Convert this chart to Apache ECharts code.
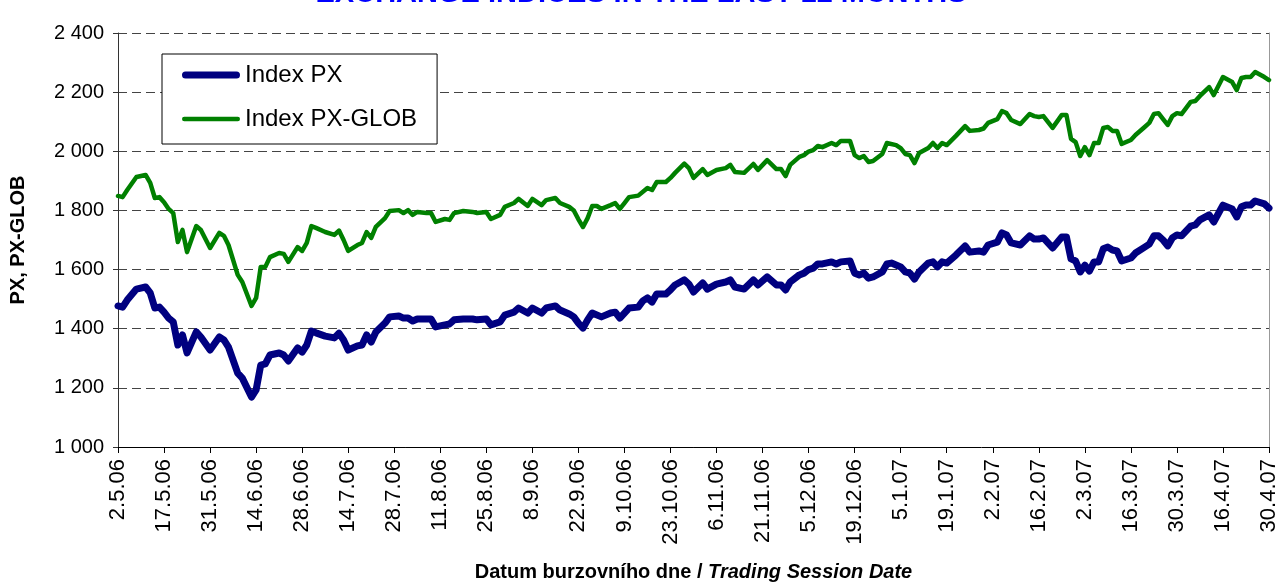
<!DOCTYPE html>
<html>
<head>
<meta charset="utf-8">
<script src="https://cdn.jsdelivr.net/npm/echarts@6/dist/echarts.min.js"></script>
<style>
  html, body { margin: 0; padding: 0; background: #fff; }
  #chart { width: 1282px; height: 583px; }
</style>
</head>
<body>
<div id="chart"></div>
<script>
// popisky osy x - kazdych 10 obchodnich dni
var tickLabels = ['2.5.06', '17.5.06', '31.5.06', '14.6.06', '28.6.06', '14.7.06', '28.7.06',
  '11.8.06', '25.8.06', '8.9.06', '22.9.06', '9.10.06', '23.10.06', '6.11.06', '21.11.06',
  '5.12.06', '19.12.06', '5.1.07', '19.1.07', '2.2.07', '16.2.07', '2.3.07', '16.3.07',
  '30.3.07', '16.4.07', '30.4.07'];

var yTicks = [1000, 1200, 1400, 1600, 1800, 2000, 2200, 2400];

// [poradi obchodniho dne, hodnota]
var indexPX = [
  [0,1477],[1,1473],[2,1497],[4,1534],[6,1541],[7,1521],[8,1470],[9,1473],[10,1456],[11,1436],
  [12,1423],[13,1345],[14,1379],[15,1318],[17,1389],[18,1372],[20,1328],[22,1372],[23,1362],
  [24,1338],[26,1250],[27,1233],[29,1169],[30,1193],[31,1277],[32,1281],[33,1311],[35,1318],
  [36,1311],[37,1291],[39,1335],[40,1321],[41,1345],[42,1392],[43,1386],[45,1375],[47,1369],
  [48,1385],[49,1362],[50,1328],[52,1342],[53,1345],[54,1379],[55,1355],[56,1389],[58,1419],
  [59,1440],[61,1443],[62,1436],[63,1436],[64,1426],[65,1433],[67,1433],[68,1433],[69,1406],
  [71,1413],[72,1416],[73,1430],[75,1433],[77,1433],[78,1430],[80,1433],[81,1413],[83,1423],
  [84,1446],[86,1456],[87,1470],[89,1453],[90,1470],[92,1453],[93,1470],[95,1477],[96,1463],
  [98,1450],[99,1440],[100,1419],[101,1402],[102,1430],[103,1453],[105,1440],[107,1453],
  [108,1456],[109,1436],[111,1470],[113,1473],[114,1494],[115,1504],[116,1490],[117,1517],
  [119,1517],[120,1531],[121,1548],[123,1565],[124,1551],[125,1524],[127,1555],[128,1534],
  [130,1551],[132,1558],[133,1565],[134,1541],[136,1534],[138,1565],[139,1548],[141,1575],
  [143,1548],[144,1548],[145,1531],[146,1558],[148,1582],[149,1588],[150,1600],[151,1605],
  [152,1619],[153,1619],[155,1626],[156,1619],[157,1626],[159,1629],[160,1588],[161,1582],
  [162,1588],[163,1571],[164,1575],[166,1592],[167,1619],[168,1622],[170,1609],[171,1592],
  [172,1588],[173,1568],[174,1592],[176,1622],[177,1626],[178,1609],[179,1626],[180,1622],
  [182,1649],[184,1680],[185,1659],[187,1663],[188,1659],[189,1683],[191,1693],[192,1724],
  [193,1717],[194,1690],[196,1683],[198,1714],[199,1703],[200,1703],[201,1707],[203,1673],
  [205,1710],[206,1710],[207,1636],[208,1629],[209,1592],[210,1615],[211,1595],[212,1626],
  [213,1626],[214,1670],[215,1676],[216,1666],[217,1663],[218,1629],[220,1639],[221,1656],
  [223,1676],[224,1686],[225,1714],[226,1714],[227,1700],[228,1680],[229,1707],[230,1717],
  [231,1714],[233,1747],[234,1751],[235,1768],[237,1785],[238,1761],[240,1818],[242,1805],
  [243,1778],[244,1812],[245,1818],[246,1818],[247,1832],[249,1822],[250,1808]
];

var indexGLOB = [
  [0,1849],[1,1845],[2,1869],[4,1913],[6,1920],[7,1893],[8,1842],[9,1845],[10,1828],[11,1805],
  [12,1791],[13,1693],[14,1734],[15,1659],[17,1747],[18,1734],[20,1673],[22,1724],[23,1714],
  [24,1683],[26,1582],[27,1558],[29,1477],[30,1504],[31,1609],[32,1609],[33,1642],[35,1656],
  [36,1653],[37,1626],[39,1676],[40,1663],[41,1690],[42,1747],[43,1741],[45,1727],[47,1717],
  [48,1732],[49,1700],[50,1663],[52,1683],[53,1690],[54,1727],[55,1707],[56,1744],[58,1774],
  [59,1798],[61,1801],[62,1791],[63,1801],[64,1785],[65,1795],[67,1791],[68,1791],[69,1761],
  [71,1771],[72,1768],[73,1791],[75,1798],[77,1795],[78,1791],[80,1795],[81,1771],[83,1785],
  [84,1812],[86,1825],[87,1839],[89,1815],[90,1839],[92,1818],[93,1835],[95,1842],[96,1825],
  [98,1812],[99,1800],[100,1770],[101,1744],[102,1774],[103,1815],[104,1815],[105,1805],
  [107,1818],[108,1825],[109,1805],[110,1825],[111,1845],[113,1850],[115,1876],[116,1869],
  [117,1896],[119,1896],[120,1910],[121,1927],[123,1958],[124,1943],[125,1910],[127,1940],
  [128,1920],[130,1937],[132,1943],[133,1954],[134,1930],[136,1927],[138,1957],[139,1937],
  [141,1970],[143,1940],[144,1940],[145,1916],[146,1954],[148,1981],[149,1987],[150,1999],
  [151,2004],[152,2018],[153,2014],[155,2028],[156,2021],[157,2035],[159,2035],[160,1987],
  [161,1977],[162,1984],[163,1964],[164,1967],[166,1991],[167,2028],[169,2021],[170,2011],
  [171,1991],[172,1987],[173,1960],[174,1994],[176,2011],[177,2028],[178,2011],[179,2028],
  [180,2021],[182,2052],[184,2085],[185,2069],[187,2072],[188,2077],[189,2096],[191,2109],
  [192,2136],[193,2129],[194,2106],[196,2092],[198,2126],[199,2119],[200,2116],[201,2119],
  [203,2079],[205,2123],[206,2123],[207,2042],[208,2031],[209,1984],[210,2014],[211,1987],
  [212,2028],[213,2028],[214,2079],[215,2082],[216,2069],[217,2069],[218,2025],[220,2038],
  [221,2055],[223,2082],[224,2096],[225,2126],[226,2129],[227,2109],[228,2089],[229,2119],
  [230,2129],[231,2126],[233,2167],[234,2170],[235,2187],[237,2217],[238,2190],[240,2251],
  [242,2234],[243,2207],[244,2248],[245,2251],[246,2251],[247,2268],[249,2251],[250,2241]
];

var chart = echarts.init(document.getElementById('chart'));

function thousands(v) {
  return String(v).replace(/\B(?=(\d{3})+(?!\d))/g, ' ');
}

// ikonky legendy - zaoblene cary ruzne tloustky
var iconThick = 'path://M3.5,0 L54.5,0 A3.5,3.5 0 0 1 54.5,7 L3.5,7 A3.5,3.5 0 0 1 3.5,0 Z';
var iconThin = 'path://M2.25,0 L55.75,0 A2.25,2.25 0 0 1 55.75,4.5 L2.25,4.5 A2.25,2.25 0 0 1 2.25,0 Z';

var option = {
  animation: false,
  backgroundColor: '#fff',
  textStyle: { fontFamily: 'Liberation Sans, Arial, sans-serif' },
  title: {
    text: 'EXCHANGE INDICES IN THE LAST 12 MONTHS',
    left: 'center',
    top: -26,
    textStyle: { color: '#0000ff', fontSize: 29, fontWeight: 'bold' }
  },
  legend: {
    orient: 'vertical',
    left: 162,
    top: 54,
    padding: [9, 20, 13, 20],
    itemWidth: 58,
    itemHeight: 7,
    itemGap: 20,
    borderColor: '#000',
    borderWidth: 1,
    backgroundColor: '#fff',
    textStyle: { fontSize: 24, color: '#000' },
    data: [
      { name: 'Index PX', icon: iconThick },
      { name: 'Index PX-GLOB', icon: iconThin }
    ]
  },
  grid: { left: 118, right: 13, top: 33, bottom: 136, outerBoundsMode: 'none' },
  xAxis: {
    type: 'value',
    min: 0,
    max: 250,
    interval: 10,
    name: '{a|Datum burzovního dne / }{b|Trading Session Date}',
    nameLocation: 'middle',
    nameGap: 115,
    nameTextStyle: {
      rich: {
        a: { fontSize: 20, fontWeight: 'bold', color: '#000' },
        b: { fontSize: 20, fontWeight: 'bold', fontStyle: 'italic', color: '#000' }
      }
    },
    axisLine: { show: true, lineStyle: { color: '#000', width: 1 } },
    axisTick: { show: true, length: 6, lineStyle: { color: '#000' } },
    splitLine: { show: false },
    axisLabel: {
      rotate: 90,
      margin: 12,
      fontSize: 22,
      color: '#000',
      formatter: function (v) { return tickLabels[Math.round(v / 10)] || ''; }
    }
  },
  yAxis: [{
    type: 'value',
    min: yTicks[0],
    max: yTicks[yTicks.length - 1],
    interval: 200,
    name: 'PX, PX-GLOB',
    nameLocation: 'middle',
    nameRotate: 90,
    nameGap: 90,
    nameTextStyle: { fontSize: 20, fontWeight: 'bold', color: '#000' },
    axisLine: { show: true, lineStyle: { color: '#333', width: 1 } },
    axisTick: { show: true, length: 5, lineStyle: { color: '#333' } },
    axisLabel: { fontSize: 20, color: '#000', margin: 14, formatter: thousands },
    splitLine: { show: true, lineStyle: { color: '#444', width: 1, type: [9, 5] } }
  }, {
    type: 'value',
    position: 'right',
    min: yTicks[0],
    max: yTicks[yTicks.length - 1],
    interval: 200,
    axisLine: { show: true, lineStyle: { color: '#999', width: 1 } },
    axisTick: { show: false },
    axisLabel: { show: false },
    splitLine: { show: false }
  }],
  series: [{
    name: 'Index PX',
    type: 'line',
    data: indexPX,
    symbol: 'none',
    color: '#000080',
    lineStyle: { color: '#000080', width: 7, cap: 'round', join: 'round' }
  }, {
    name: 'Index PX-GLOB',
    type: 'line',
    data: indexGLOB,
    symbol: 'none',
    color: '#008000',
    lineStyle: { color: '#008000', width: 4.5, cap: 'round', join: 'round' }
  }]
};

chart.setOption(option);
</script>
</body>
</html>
